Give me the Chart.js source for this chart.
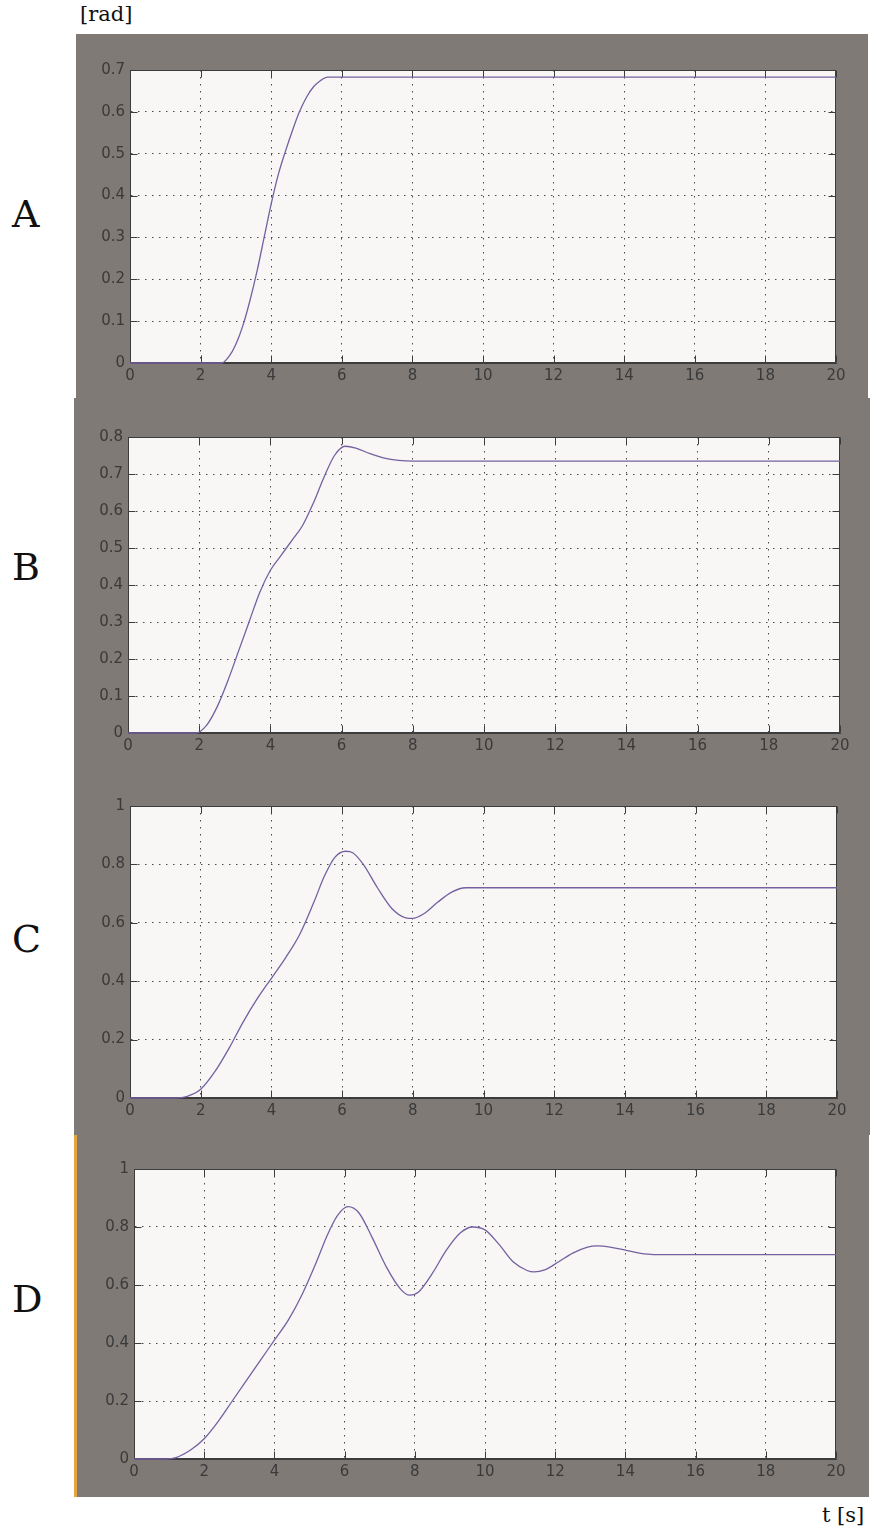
<!DOCTYPE html>
<html>
<head>
<meta charset="utf-8">
<script src="https://cdn.jsdelivr.net/npm/chart.js@4.4.1/dist/chart.umd.min.js"></script>
<style>
  body { margin:0; background:#fff; width:876px; height:1530px; position:relative; overflow:hidden; }
  .gray { position:absolute; background:#807a77; }
  canvas { position:absolute; }
  .lbl { position:absolute; font-family:"DejaVu Serif", serif; color:#111; }
  .big { font-size:38px; left:12px; }
</style>
</head>
<body>
<div class="gray" style="left:76px;top:34px;width:792px;height:364px"></div>
<div class="gray" style="left:74px;top:398px;width:796px;height:737px"></div>
<div class="gray" style="left:77px;top:1135px;width:792px;height:362px;border-left:3px solid #e8a43c;margin-left:-3px"></div>

<div class="lbl" style="left:80px;top:2px;font-size:21px">[rad]</div>
<div class="lbl" style="left:822px;top:1503px;font-size:21px">t [s]</div>
<div class="lbl big" style="top:192px">A</div>
<div class="lbl big" style="top:545px">B</div>
<div class="lbl big" style="top:917px">C</div>
<div class="lbl big" style="top:1277px">D</div>

<canvas id="cA" width="792" height="364" style="left:76px;top:34px"></canvas>
<canvas id="cB" width="796" height="370" style="left:74px;top:398px"></canvas>
<canvas id="cC" width="796" height="367" style="left:74px;top:768px"></canvas>
<canvas id="cD" width="792" height="362" style="left:77px;top:1135px"></canvas>

<script>
const tA = [0, 2.6, 2.8, 3.0, 3.2, 3.4, 3.6, 3.8, 4.0, 4.2, 4.4, 4.6, 4.8, 5.0, 5.2, 5.4, 5.6, 20];
const yA = [0, 0, 0.015, 0.045, 0.09, 0.15, 0.22, 0.3, 0.38, 0.45, 0.505, 0.555, 0.6, 0.635, 0.66, 0.675, 0.683, 0.683];

const tB = [0, 1.9, 2.2, 2.5, 2.8, 3.1, 3.4, 3.7, 4.0, 4.3, 4.6, 4.9, 5.2, 5.5, 5.8, 6.1, 6.4, 6.8, 7.2, 7.6, 8.0, 20];
const yB = [0, 0, 0.02, 0.07, 0.14, 0.22, 0.3, 0.38, 0.44, 0.48, 0.52, 0.56, 0.62, 0.69, 0.75, 0.775, 0.77, 0.755, 0.743, 0.737, 0.735, 0.735];

const tC = [0, 1.3, 1.6, 2.0, 2.4, 2.8, 3.2, 3.6, 4.0, 4.4, 4.8, 5.2, 5.5, 5.8, 6.1, 6.3, 6.6, 7.0, 7.4, 7.8, 8.0, 8.3, 8.7, 9.1, 9.5, 20];
const yC = [0, 0, 0.005, 0.03, 0.09, 0.17, 0.26, 0.34, 0.41, 0.48, 0.56, 0.67, 0.76, 0.825, 0.845, 0.84, 0.8, 0.72, 0.65, 0.617, 0.615, 0.63, 0.67, 0.705, 0.72, 0.72];

const tD = [0, 0.9, 1.2, 1.6, 2.0, 2.4, 2.8, 3.2, 3.6, 4.0, 4.4, 4.8, 5.2, 5.5, 5.8, 6.1, 6.4, 6.8, 7.2, 7.6, 7.85, 8.1, 8.5, 8.9, 9.3, 9.65, 10.0, 10.4, 10.8, 11.2, 11.4, 11.7, 12.1, 12.5, 12.9, 13.2, 13.6, 14.0, 14.4, 14.8, 20];
const yD = [0, 0, 0.005, 0.03, 0.07, 0.13, 0.2, 0.27, 0.34, 0.41, 0.48, 0.57, 0.68, 0.77, 0.84, 0.87, 0.85, 0.76, 0.66, 0.585, 0.565, 0.575, 0.64, 0.72, 0.78, 0.8, 0.79, 0.74, 0.68, 0.65, 0.645, 0.652, 0.68, 0.71, 0.73, 0.735, 0.73, 0.72, 0.71, 0.705, 0.705];

const xTicks = [0, 2, 4, 6, 8, 10, 12, 14, 16, 18, 20];
const yTicksA = [0, 0.1, 0.2, 0.3, 0.4, 0.5, 0.6, 0.7];
const yTicksB = [0, 0.1, 0.2, 0.3, 0.4, 0.5, 0.6, 0.7, 0.8];
const yTicksCD = [0, 0.2, 0.4, 0.6, 0.8, 1];

const AXIS = '#3c3c3c';
const LINE = '#7560a0';
const TICKFONT = { family: 'DejaVu Sans', size: 15 };

// plot background, box and inward ticks like the matlab axes
const frame = {
  id: 'frame',
  beforeDraw(chart) {
    const a = chart.chartArea, ctx = chart.ctx;
    ctx.save();
    ctx.fillStyle = '#f8f7f6';
    ctx.fillRect(a.left, a.top, a.right - a.left, a.bottom - a.top);
    ctx.restore();
  },
  beforeDatasetsDraw(chart) {
    const a = chart.chartArea, ctx = chart.ctx;
    const {x, y} = chart.scales;
    const L = Math.round(a.left) + 0.5, R = Math.round(a.right) - 0.5;
    const T = Math.round(a.top) + 0.5, B = Math.round(a.bottom) - 0.5;
    ctx.save();
    ctx.strokeStyle = AXIS;
    ctx.lineWidth = 1;
    ctx.strokeRect(L, T, R - L, B - T);
    ctx.beginPath();
    x.ticks.forEach(t => {
      const px = Math.round(x.getPixelForValue(t.value)) + 0.5;
      ctx.moveTo(px, B); ctx.lineTo(px, B - 7);
      ctx.moveTo(px, T); ctx.lineTo(px, T + 7);
    });
    y.ticks.forEach(t => {
      const py = Math.round(y.getPixelForValue(t.value)) + 0.5;
      ctx.moveTo(L, py); ctx.lineTo(L + 7, py);
      ctx.moveTo(R, py); ctx.lineTo(R - 7, py);
    });
    ctx.stroke();
    ctx.restore();
  }
};

function makePanel(id, ts, ys, yTicks, yMax, yW, xH, padTop, padRight) {
  const ctx = document.getElementById(id);
  const edgeGrid = (lo, hi) => c => (c.tick && (c.tick.value === lo || c.tick.value === hi)) ? 'rgba(0,0,0,0)' : '#4a4a4a';
  return new Chart(ctx, {
    type: 'line',
    data: { datasets: [{
      data: ts.map((t, i) => ({x: t, y: ys[i]})),
      borderColor: LINE, borderWidth: 1.3, pointRadius: 0,
      cubicInterpolationMode: 'monotone', clip: 3
    }]},
    options: {
      responsive: false, animation: false, devicePixelRatio: 1,
      layout: { padding: { top: padTop, right: padRight, left: 0, bottom: 0 } },
      plugins: { legend: { display: false }, tooltip: { enabled: false } },
      scales: {
        x: {
          type: 'linear', min: 0, max: 20,
          afterBuildTicks: s => { s.ticks = xTicks.map(v => ({value: v})); },
          afterFit: s => { s.height = xH; },
          ticks: { color: '#3a3a3a', font: TICKFONT, padding: 4, maxRotation: 0, autoSkip: false,
                   callback: v => String(v) },
          grid: { drawTicks: false, color: edgeGrid(0, 20), lineWidth: 1 },
          border: { color: AXIS, width: 1, dash: [1.5, 5.5] }
        },
        y: {
          min: 0, max: yMax,
          afterBuildTicks: s => { s.ticks = yTicks.map(v => ({value: v})); },
          afterFit: s => { s.width = yW; },
          ticks: { color: '#3a3a3a', font: TICKFONT, padding: 5,
                   callback: v => String(Math.round(v * 10) / 10) },
          grid: { drawTicks: false, color: edgeGrid(0, yMax), lineWidth: 1 },
          border: { color: AXIS, width: 1, dash: [1.5, 5.5] }
        }
      }
    },
    plugins: [frame]
  });
}

makePanel('cA', tA, yA, yTicksA, 0.7, 54, 35, 36, 32);
makePanel('cB', tB, yB, yTicksB, 0.8, 54, 35, 39, 30);
makePanel('cC', tC, yC, yTicksCD, 1, 56, 37, 38, 33);
makePanel('cD', tD, yD, yTicksCD, 1, 57, 38, 34, 33);
</script>
</body>
</html>
